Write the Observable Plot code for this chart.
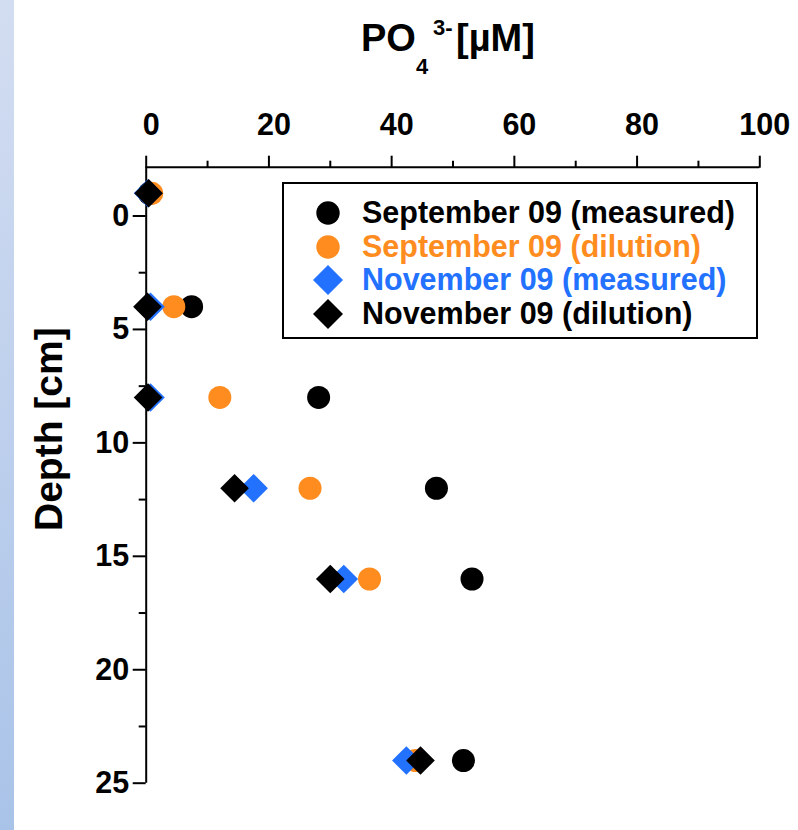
<!DOCTYPE html>
<html>
<head>
<meta charset="utf-8">
<script src="https://cdn.jsdelivr.net/npm/d3@7"></script>
<script src="https://cdn.jsdelivr.net/npm/@observablehq/plot@0.6"></script>
<style>
  html, body { margin: 0; padding: 0; background: #fff; }
  body { width: 798px; height: 830px; position: relative; overflow: hidden;
         font-family: "Liberation Sans", Arial, Helvetica, sans-serif; font-weight: bold; }
  #strip { position: absolute; left: 0; top: 0; width: 14px; height: 830px;
           background: linear-gradient(to bottom, #d3ddf1, #a9c3e8); }
  #title { position: relative; height: 80px; width: 798px; }
  #title span { position: absolute; line-height: 1; white-space: nowrap; color: #000; }
  #chart { position: relative; }
  #legend { position: absolute; left: 282px; top: 182px; width: 476px; height: 157px;
            box-sizing: border-box; border: 2px solid #000; background: #fff; }
  #legend .row { position: absolute; left: 0; height: 34px; width: 100%; }
  #legend .row svg { position: absolute; left: 27px; top: 0; }
  #legend .row span { position: absolute; left: 78px; top: -1px; font-size: 30.5px; line-height: 34px; white-space: nowrap; }
</style>
</head>
<body>
<div id="strip"></div>
<div id="title">
  <span style="left:361px; top:19px; font-size:38px;">PO</span>
  <span style="left:416px; top:56px; font-size:22px;">4</span>
  <span style="left:433px; top:17px; font-size:22px;">3-</span>
  <span style="left:456px; top:19px; font-size:38px;">[µM]</span>
</div>
<div id="chart"></div>
<div id="legend"></div>
<script>
// ---- data ----
const depths      = [-1, 4, 8, 12, 16, 24];
const sepMeasured = [0.5, 7.4, 28.1, 47.3, 53.1, 51.7];
const sepDilution = [0.9, 4.5, 12.0, 26.7, 36.4, 43.9];
const novMeasured = [0.3, 0.7, 0.7, 17.5, 32.2, 42.4];
const novDilution = [0.4, 0.2, 0.3, 14.4, 30.0, 44.7];

const seriesNames  = ["September 09 (measured)", "September 09 (dilution)", "November 09 (measured)", "November 09 (dilution)"];
const seriesColors = ["#000000", "#ff8c1f", "#2371ff", "#000000"];
const seriesSymbols = ["circle", "circle", "diamond2", "diamond2"];
const seriesValues = [sepMeasured, sepDilution, novMeasured, novDilution];

const xMajor = [0, 20, 40, 60, 80, 100];
const xMinor = [10, 30, 50, 70, 90];
const yMajor = [0, 5, 10, 15, 20, 25];
const yMinor = [2.5, 7.5, 12.5, 17.5, 22.5];
const xDomain = [0, 100];
const yDomain = [-2.15, 25];
const yLabel = "Depth [cm]";

const rows = seriesNames.map((name, i) =>
  depths.map((d, j) => ({series: name, depth: d, value: seriesValues[i][j]}))
);

const font = "'Liberation Sans', Arial, Helvetica, sans-serif";

const marks = [];
// axis lines
marks.push(Plot.ruleY([yDomain[0]], {stroke: "#000", strokeWidth: 2}));
marks.push(Plot.ruleX([0], {stroke: "#000", strokeWidth: 2}));
// x axis at top
marks.push(Plot.axisX({anchor: "top", ticks: xMajor, tickSize: 12, tickPadding: 20, tickFormat: d => String(d),
  fontSize: 30.5, fontWeight: "bold", strokeWidth: 2, label: null, textStroke: "none"}));
marks.push(Plot.axisX({anchor: "top", ticks: xMinor, tickSize: 7, tickFormat: () => "", strokeWidth: 2, label: null}));
// y axis
marks.push(Plot.axisY({anchor: "left", ticks: yMajor, tickSize: 13, tickPadding: 4, tickFormat: d => String(d),
  fontSize: 30.5, fontWeight: "bold", strokeWidth: 2, label: null}));
marks.push(Plot.axisY({anchor: "left", ticks: yMinor, tickSize: 7, tickFormat: () => "", strokeWidth: 2, label: null}));
// y axis title
marks.push(Plot.text([yLabel], {frameAnchor: "left", rotate: -90, lineAnchor: "bottom", textAnchor: "middle",
  dx: -84, dy: -46, fontSize: 39, fontWeight: "bold", fill: "#000"}));
// data series, drawn in legend order
rows.forEach((data, i) => {
  const isDiamond = seriesSymbols[i] === "diamond2";
  marks.push(Plot.dot(data, {x: "value", y: "depth", symbol: () => seriesSymbols[i],
    r: isDiamond ? 12.9 : 11.5, fill: seriesColors[i], stroke: "none"}));
});

const chart = Plot.plot({
  width: 798,
  height: 750,
  marginTop: 86.7,
  marginLeft: 145.7,
  marginRight: 38.7,
  marginBottom: 47.3,
  x: {domain: xDomain, axis: null},
  y: {domain: yDomain, reverse: true, axis: null},
  symbol: {type: "identity"},
  style: {fontFamily: font, background: "transparent", overflow: "visible", color: "#000"},
  marks
});
// nudge the top tick labels slightly right, as in the reference
chart.querySelectorAll('g[aria-label="x-axis tick label"]').forEach(g => {
  const t = g.getAttribute("transform") || "";
  g.setAttribute("transform", t + " translate(5,0)");
});
document.getElementById("chart").appendChild(chart);

// legend
const legend = document.getElementById("legend");
const rowTops = [12, 45.5, 79, 112.5];
seriesNames.forEach((name, i) => {
  const row = document.createElement("div");
  row.className = "row";
  row.style.top = (rowTops[i]) + "px";
  const sym = seriesSymbols[i] === "diamond2" ? d3.symbol(d3.symbolDiamond2, Math.PI * 13.5 * 13.5)() : d3.symbol(d3.symbolCircle, Math.PI * 11.7 * 11.7)();
  row.innerHTML = `<svg width="34" height="34" viewBox="-17 -17 34 34"><path d="${sym}" fill="${seriesColors[i]}"/></svg><span style="color:${seriesColors[i]}">${name}</span>`;
  legend.appendChild(row);
});
</script>
</body>
</html>
